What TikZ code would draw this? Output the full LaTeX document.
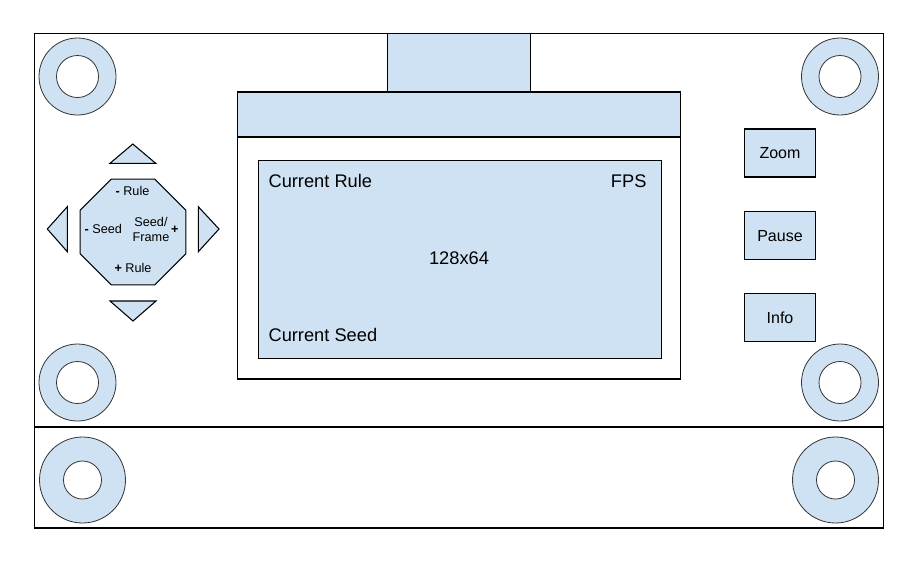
\documentclass[tikz,border=0pt]{standalone}
\usepackage{fontspec}
\setmainfont{Liberation Sans}
\usetikzlibrary{shapes.geometric}
\definecolor{padblue}{HTML}{CFE2F3}

\begin{document}
\begin{tikzpicture} [x=0.75pt, y=-0.75pt,
            part/.style={draw=black, fill=padblue, line width=0.8pt},
            ring/.style={circle, draw=black!80, fill=padblue, line width=0.6pt, inner sep=0pt},
            hole/.style={circle, draw=black!80, fill=white, line width=0.6pt, inner sep=0pt},
            btn/.style={rectangle, draw=black, fill=padblue, line width=0.8pt, minimum width=53.5pt, minimum height=36pt, font=\fontsize{12}{14}\selectfont},
            lcd/.style={inner sep=0pt, font=\fontsize{13.7}{16}\selectfont},
            dpad/.style={regular polygon, regular polygon sides=8, draw=black, fill=padblue, line width=0.8pt, minimum size=85.8pt, inner sep=0pt},
            padtxt/.style={inner sep=0pt, align=center, font=\fontsize{9.5}{11.6}\selectfont}]
            \useasboundingbox (0,0) rectangle (918,562);
            % display
            \draw[part] (387.5,33.5) rectangle (530.5,92);
            \draw[part] (237.5,92) rectangle (680.5,137);
            \draw[line width=0.8pt] (237.5,137) rectangle (680.5,379);
            \draw[part] (258.5,160.5) rectangle (661.5,358.5);
            \node[lcd, anchor=base west] (rule) at (268.3,187.3) {Current Rule};
            \node[lcd, anchor=base east] (fps) at (646.7,187.3) {FPS};
            \node[lcd, anchor=base] (res) at (459,264.3) {128x64};
            \node[lcd, anchor=base west] (seed) at (268.3,341) {Current Seed};
            % board
            \draw[line width=0.8pt] (34.5,33.5) rectangle (883.5,528);
            \draw[line width=0.8pt] (34.5,427) -- (883.5,427);
            % mounting holes
            \foreach \x/\y [count=\i] in {77.5/76.5, 840/76.5, 77.5/382.5, 840/382.5} {
                \node[ring, minimum size=57.75pt] (ring\i) at (\x,\y) {};
                \node[hole, minimum size=31.5pt] (hole\i) at (\x,\y) {};
            }
            \foreach \x [count=\i] in {82.5, 835.5} {
                \node[ring, minimum size=64.5pt] (bigring\i) at (\x,480) {};
                \node[hole, minimum size=28.5pt] (bighole\i) at (\x,480) {};
            }
            % buttons
            \node[btn] (zoom) at (780,153) {Zoom};
            \node[btn] (pause) at (780,235.7) {Pause};
            \node[btn] (info) at (780,317.5) {Info};
            % d-pad
            \node[dpad] (pad) at (133,232) {};
            \draw[part] (110,163.3) -- (132.8,144) -- (155.7,163.3) -- cycle;
            \draw[part] (110,301) -- (133,321) -- (156,301) -- cycle;
            \draw[part] (67.3,206.7) -- (47.3,229) -- (67.3,251.7) -- cycle;
            \draw[part] (198.3,206.7) -- (219,229) -- (198.3,251.7) -- cycle;
            \node[padtxt] (padup) at (132.5,190.7) {\textbf{-} Rule};
            \node[padtxt] (padleft) at (103.3,229) {\textbf{-} Seed};
            \node[padtxt] (padright) at (151,229.5) {Seed/\\Frame};
            \node[padtxt] (padplus) at (174.7,229.3) {\textbf{+}};
            \node[padtxt] (paddown) at (133,268.3) {\textbf{+} Rule};
        \end{tikzpicture}
\end{document}
